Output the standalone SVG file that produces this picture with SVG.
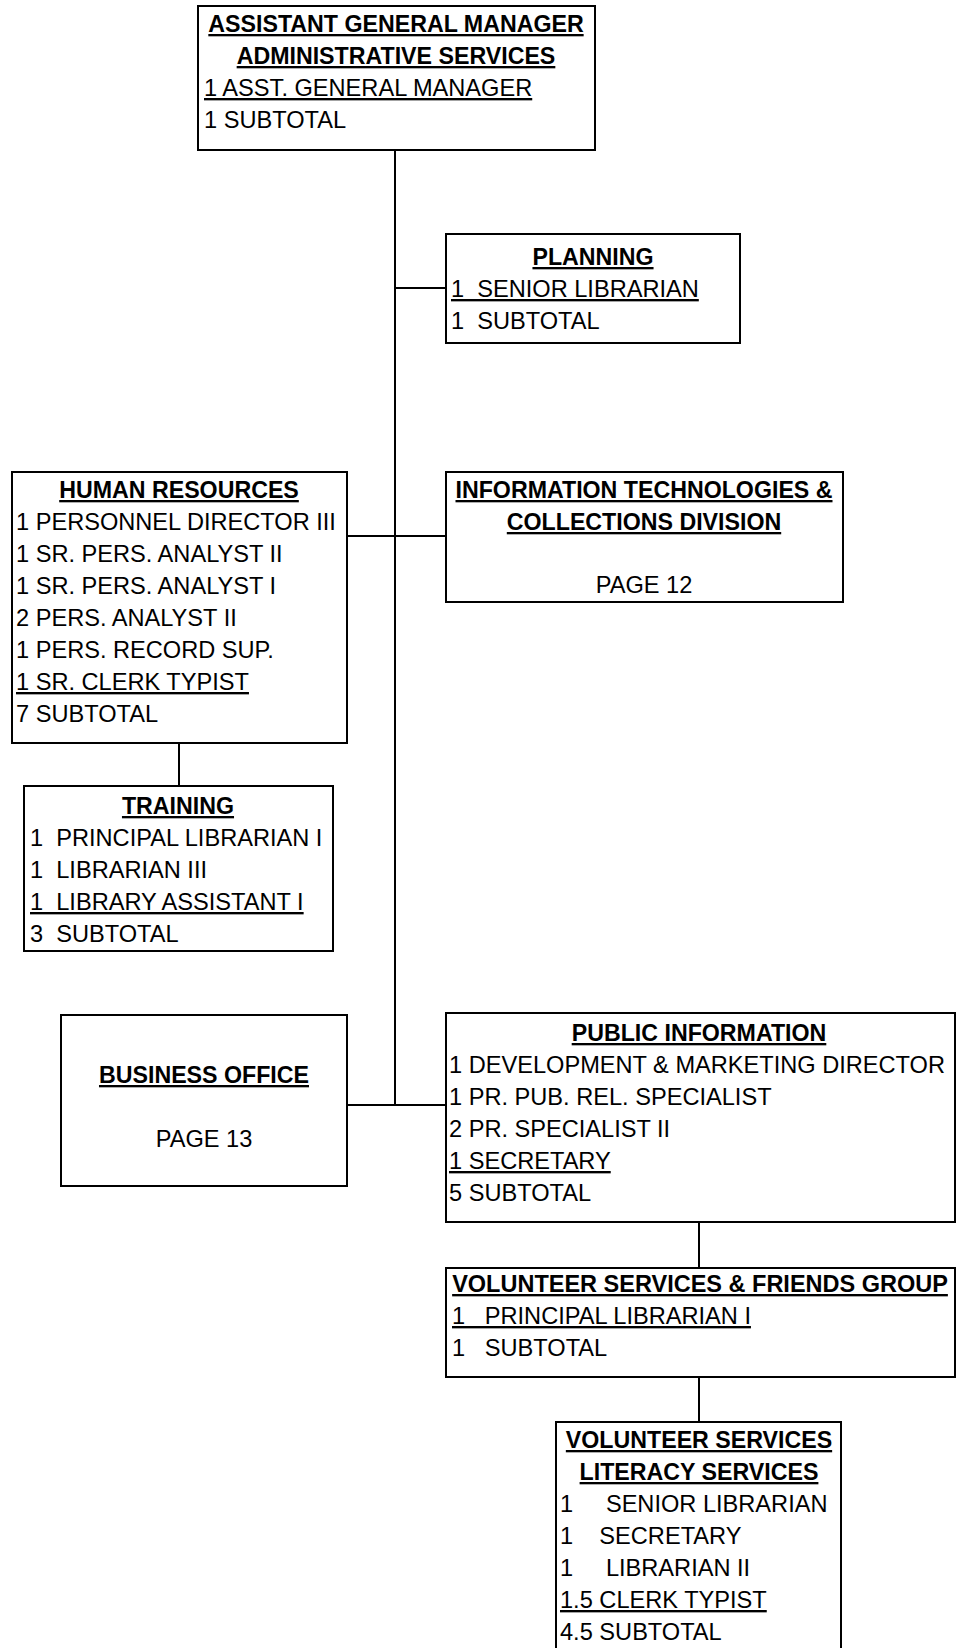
<svg xmlns="http://www.w3.org/2000/svg" width="965" height="1648" viewBox="0 0 965 1648">
<style>
.box{fill:#fff;stroke:#000;stroke-width:2}
.c{fill:none;stroke:#000;stroke-width:2}
text{font-family:"Liberation Sans",Arial,sans-serif;font-size:23.6px;fill:#000;white-space:pre}
.h{font-weight:bold;font-size:23.2px;text-anchor:middle;text-decoration:underline}
.m{text-anchor:middle}
.u{text-decoration:underline}
</style>
<rect width="965" height="1648" fill="#fff"/>
<g id="connectors">
<path class="c" d="M395 150V1105"/>
<path class="c" d="M395 288H446"/>
<path class="c" d="M347 536H446"/>
<path class="c" d="M179 743V786"/>
<path class="c" d="M347 1105H446"/>
<path class="c" d="M699 1222V1268"/>
<path class="c" d="M699 1377V1422"/>
</g>
<g id="agm">
<rect class="box" x="198" y="6" width="397" height="144"/>
<text class="h" x="396" y="32">ASSISTANT GENERAL MANAGER</text>
<text class="h" x="396" y="64">ADMINISTRATIVE SERVICES</text>
<text class="u" x="204" y="96">1 ASST. GENERAL MANAGER</text>
<text x="204" y="128">1 SUBTOTAL</text>
</g>
<g id="planning">
<rect class="box" x="446" y="234" width="294" height="109"/>
<text class="h" x="593" y="265">PLANNING</text>
<text class="u" x="451" y="297" xml:space="preserve">1  SENIOR LIBRARIAN</text>
<text x="451" y="329" xml:space="preserve">1  SUBTOTAL</text>
</g>
<g id="hr">
<rect class="box" x="12" y="472" width="335" height="271"/>
<text class="h" x="179" y="498">HUMAN RESOURCES</text>
<text x="16" y="530">1 PERSONNEL DIRECTOR III</text>
<text x="16" y="562">1 SR. PERS. ANALYST II</text>
<text x="16" y="594">1 SR. PERS. ANALYST I</text>
<text x="16" y="626">2 PERS. ANALYST II</text>
<text x="16" y="658">1 PERS. RECORD SUP.</text>
<text class="u" x="16" y="690">1 SR. CLERK TYPIST</text>
<text x="16" y="722">7 SUBTOTAL</text>
</g>
<g id="it">
<rect class="box" x="446" y="472" width="397" height="130"/>
<text class="h" x="644" y="498">INFORMATION TECHNOLOGIES &amp;</text>
<text class="h" x="644" y="530">COLLECTIONS DIVISION</text>
<text class="m" x="644" y="593">PAGE 12</text>
</g>
<g id="training">
<rect class="box" x="24" y="786" width="309" height="165"/>
<text class="h" x="178" y="814">TRAINING</text>
<text x="30" y="846" xml:space="preserve">1  PRINCIPAL LIBRARIAN I</text>
<text x="30" y="878" xml:space="preserve">1  LIBRARIAN III</text>
<text class="u" x="30" y="910" xml:space="preserve">1  LIBRARY ASSISTANT I</text>
<text x="30" y="942" xml:space="preserve">3  SUBTOTAL</text>
</g>
<g id="business">
<rect class="box" x="61" y="1015" width="286" height="171"/>
<text class="h" x="204" y="1083">BUSINESS OFFICE</text>
<text class="m" x="204" y="1147">PAGE 13</text>
</g>
<g id="public">
<rect class="box" x="446" y="1013" width="509" height="209"/>
<text class="h" x="699" y="1041">PUBLIC INFORMATION</text>
<text x="449" y="1073">1 DEVELOPMENT &amp; MARKETING DIRECTOR</text>
<text x="449" y="1105">1 PR. PUB. REL. SPECIALIST</text>
<text x="449" y="1137">2 PR. SPECIALIST II</text>
<text class="u" x="449" y="1169">1 SECRETARY</text>
<text x="449" y="1201">5 SUBTOTAL</text>
</g>
<g id="volunteer">
<rect class="box" x="446" y="1268" width="509" height="109"/>
<text class="h" x="700" y="1292" style="font-size:23.5px">VOLUNTEER SERVICES &amp; FRIENDS GROUP</text>
<text class="u" x="452" y="1324" xml:space="preserve">1   PRINCIPAL LIBRARIAN I</text>
<text x="452" y="1356" xml:space="preserve">1   SUBTOTAL</text>
</g>
<g id="literacy">
<rect class="box" x="556" y="1422" width="285" height="240"/>
<text class="h" x="699" y="1448">VOLUNTEER SERVICES</text>
<text class="h" x="699" y="1480">LITERACY SERVICES</text>
<text x="560" y="1512" xml:space="preserve">1     SENIOR LIBRARIAN</text>
<text x="560" y="1544" xml:space="preserve">1    SECRETARY</text>
<text x="560" y="1576" xml:space="preserve">1     LIBRARIAN II</text>
<text class="u" x="560" y="1608">1.5 CLERK TYPIST</text>
<text x="560" y="1640">4.5 SUBTOTAL</text>
</g>
</svg>
